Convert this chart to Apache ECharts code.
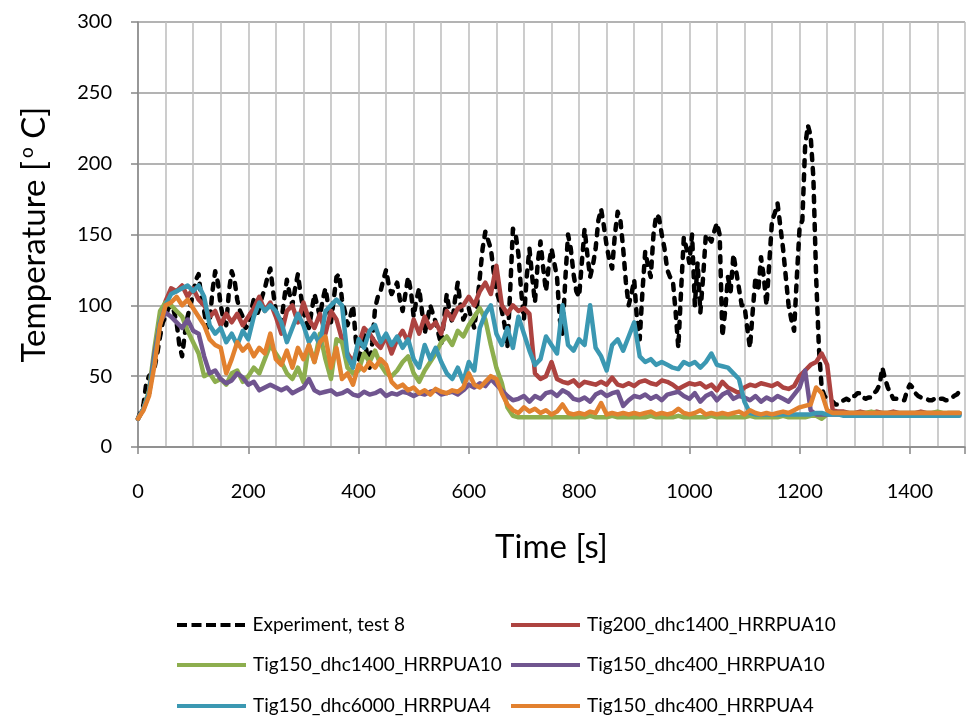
<!DOCTYPE html>
<html>
<head>
<meta charset="utf-8">
<script src="https://cdn.jsdelivr.net/npm/echarts@6/dist/echarts.min.js"></script>
<style>
  html, body { margin: 0; padding: 0; background: #ffffff; }
  #chart { width: 968px; height: 720px; }
</style>
</head>
<body>
<div id="chart"></div>
<script>
// Measured temperatures are sampled every 5 s, simulated ones every 10 s.
const experimentStep = 5;
const simulationStep = 10;

const seriesNames = [
  'Experiment, test 8',
  'Tig200_dhc1400_HRRPUA10',
  'Tig150_dhc1400_HRRPUA10',
  'Tig150_dhc400_HRRPUA10',
  'Tig150_dhc6000_HRRPUA4',
  'Tig150_dhc400_HRRPUA4'
];

const xTickValues = [0, 200, 400, 600, 800, 1000, 1200, 1400];
const yTickValues = [0, 50, 100, 150, 200, 250, 300];

// 0 s .. 1495 s, 50 s per row
const experiment = [
  20, 25, 30, 45, 50, 52, 56, 66, 78, 88,
  92, 98, 100, 96, 88, 72, 64, 80, 92, 100,
  108, 118, 122, 104, 96, 84, 88, 110, 124, 116,
  100, 90, 86, 110, 124, 118, 104, 96, 92, 84,
  86, 96, 104, 92, 98, 106, 112, 120, 126, 110,
  96, 90, 88, 104, 118, 108, 100, 112, 122, 108,
  96, 88, 84, 96, 108, 100, 92, 104, 112, 100,
  88, 104, 120, 122, 104, 96, 86, 92, 100, 76,
  60, 70, 80, 66, 56, 74, 98, 106, 110, 118,
  125, 114, 108, 112, 116, 104, 96, 108, 120, 110,
  92, 104, 112, 96, 80, 90, 100, 94, 88, 80,
  72, 90, 108, 96, 88, 104, 116, 100, 90, 94,
  98, 90, 84, 100, 120, 140, 152, 146, 140, 124,
  110, 104, 96, 86, 70, 110, 154, 150, 136, 110,
  90, 120, 140, 120, 102, 130, 145, 126, 110, 128,
  140, 130, 120, 90, 80, 118, 150, 140, 122, 110,
  106, 130, 154, 136, 120, 128, 140, 160, 168, 156,
  142, 132, 126, 150, 166, 160, 140, 116, 100, 108,
  118, 90, 76, 110, 138, 128, 120, 150, 164, 162,
  150, 140, 125, 120, 118, 96, 70, 110, 148, 140,
  130, 150, 100, 130, 95, 120, 150, 148, 145, 152,
  158, 150, 78, 96, 120, 110, 136, 124, 112, 100,
  100, 84, 70, 96, 120, 110, 134, 120, 100, 130,
  160, 165, 172, 156, 140, 120, 100, 90, 82, 120,
  155, 160, 212, 227, 220, 190, 120, 70, 42, 36,
  34, 33, 32, 30, 30, 32, 33, 34, 33, 36,
  36, 38, 38, 35, 34, 35, 35, 38, 40, 44,
  56, 48, 42, 38, 34, 34, 34, 33, 33, 40,
  44, 42, 38, 36, 35, 34, 34, 33, 33, 34,
  35, 34, 34, 33, 33, 34, 36, 37, 39, 38
];

// 0 s .. 1490 s, 100 s per row
const tig200Dhc1400Hrr10 = [
  20, 27, 38, 62, 90, 103, 112, 110, 114, 106,
  112, 104, 100, 92, 96, 86, 94, 88, 94, 86,
  92, 98, 106, 96, 102, 92, 80, 96, 100, 88,
  102, 90, 84, 94, 80, 96, 90, 76, 66, 60,
  72, 84, 80, 74, 70, 78, 66, 76, 82, 74,
  90, 80, 92, 84, 88, 80, 96, 90, 98, 100,
  106, 100, 110, 116, 108, 128, 100, 94, 100, 96,
  98, 94, 52, 48, 50, 60, 48, 46, 45, 47,
  43, 46, 45, 44, 46, 44, 49, 44, 43, 45,
  43, 46, 47, 45, 44, 47, 46, 44, 41, 43,
  45, 44, 45, 42, 44, 40, 46, 42, 40, 38,
  42, 44, 43, 45, 44, 43, 45, 42, 41, 43,
  50, 54, 58, 60, 66, 58, 26, 25, 25, 24,
  24, 25, 24, 24, 25, 24, 24, 25, 24, 24,
  24, 24, 25, 24, 24, 24, 23, 24, 24, 24
];

const tig150Dhc1400Hrr10 = [
  20, 27, 40, 70, 96, 102, 100, 96, 92, 82,
  74, 66, 50, 52, 46, 48, 44, 52, 54, 46,
  50, 56, 52, 62, 72, 66, 60, 52, 48, 56,
  46, 72, 60, 80, 62, 48, 76, 74, 56, 52,
  54, 66, 60, 68, 58, 52, 50, 54, 60, 64,
  52, 46, 54, 60, 66, 74, 78, 72, 82, 78,
  86, 92, 98, 90, 72, 56, 45, 28, 22, 21,
  21, 21, 21, 21, 21, 21, 21, 21, 21, 21,
  21, 21, 22, 21, 21, 21, 22, 21, 21, 21,
  21, 21, 21, 22, 21, 21, 21, 21, 22, 21,
  21, 21, 21, 21, 22, 21, 21, 21, 21, 21,
  21, 22, 21, 21, 21, 21, 21, 22, 21, 21,
  21, 21, 22, 22, 20, 23, 24, 24, 24, 24,
  24, 24, 24, 25, 24, 24, 24, 24, 24, 24,
  24, 24, 24, 24, 24, 25, 24, 24, 24, 24
];

const tig150Dhc400Hrr10 = [
  20, 27, 38, 66, 88, 95, 92, 88, 84, 90,
  82, 80, 64, 52, 54, 48, 45, 47, 52, 49,
  44, 46, 40, 42, 44, 42, 40, 42, 38, 40,
  42, 48, 40, 38, 39, 40, 37, 38, 40, 37,
  36, 39, 37, 38, 40, 36, 38, 37, 39, 38,
  36, 38, 37, 39, 40, 37, 38, 39, 37, 40,
  44, 42, 45, 43, 48, 44, 40, 36, 33, 34,
  36, 32, 36, 34, 38, 39, 36, 40, 38, 34,
  33, 35, 32, 37, 39, 36, 38, 39, 29, 33,
  36, 35, 37, 34, 36, 33, 37, 38, 39, 36,
  34, 38, 32, 36, 38, 33, 37, 39, 34, 36,
  35, 33, 36, 32, 35, 33, 36, 34, 32, 37,
  42, 54, 26, 23, 23, 23, 23, 23, 23, 23,
  23, 23, 23, 23, 23, 23, 23, 23, 23, 23,
  23, 23, 23, 23, 23, 23, 23, 23, 23, 23
];

const tig150Dhc6000Hrr4 = [
  20, 27, 38, 62, 88, 100, 108, 110, 112, 114,
  110, 114, 106, 86, 80, 84, 74, 80, 72, 82,
  76, 92, 102, 96, 100, 96, 88, 74, 84, 94,
  86, 74, 80, 72, 96, 100, 104, 100, 64, 56,
  76, 70, 82, 86, 74, 80, 72, 78, 70, 76,
  62, 56, 72, 62, 70, 60, 52, 48, 56, 46,
  60, 54, 84, 94, 100, 80, 72, 84, 70, 92,
  80, 68, 58, 62, 78, 72, 66, 100, 72, 68,
  76, 72, 100, 70, 64, 54, 72, 76, 68, 78,
  88, 64, 60, 62, 58, 60, 58, 56, 55, 60,
  58, 60, 56, 60, 66, 58, 57, 56, 52, 48,
  32, 24, 23, 23, 23, 23, 23, 23, 23, 23,
  23, 23, 23, 24, 24, 23, 23, 23, 22, 22,
  22, 22, 22, 22, 22, 22, 22, 22, 22, 22,
  22, 22, 22, 22, 22, 22, 22, 22, 22, 22
];

const tig150Dhc400Hrr4 = [
  20, 26, 36, 58, 86, 100, 102, 106, 100, 104,
  98, 92, 86, 76, 72, 70, 52, 62, 74, 68,
  72, 64, 70, 66, 80, 62, 58, 68, 56, 70,
  62, 72, 60, 74, 78, 56, 70, 48, 52, 44,
  58, 54, 60, 56, 62, 58, 46, 42, 44, 40,
  42, 38, 40, 37, 41, 39, 38, 40, 39, 42,
  52, 44, 42, 46, 50, 48, 38, 30, 26, 24,
  28, 25, 27, 24, 26, 23, 25, 30, 24, 23,
  24, 23, 25, 24, 31, 23, 24, 23, 24, 23,
  24, 23, 24, 25, 23, 24, 23, 24, 27, 24,
  23, 24, 26, 23, 24, 23, 24, 23, 24, 25,
  23, 26, 24, 23, 24, 23, 24, 25, 24, 26,
  28, 29, 30, 42, 38, 26, 24, 24, 24, 24,
  24, 24, 24, 24, 24, 24, 24, 24, 24, 24,
  24, 24, 24, 24, 24, 24, 24, 24, 24, 24
];

const seriesValues = [
  experiment,
  tig200Dhc1400Hrr10,
  tig150Dhc1400Hrr10,
  tig150Dhc400Hrr10,
  tig150Dhc6000Hrr4,
  tig150Dhc400Hrr4
];
const seriesSteps = [experimentStep, simulationStep, simulationStep, simulationStep, simulationStep, simulationStep];

const seriesColors = ['#000000', '#AD4340', '#8DAE4E', '#70558F', '#3B98B2', '#E2812F'];

const fontFamily = 'Lato, "Open Sans", sans-serif';
const chart = echarts.init(document.getElementById('chart'), null, { renderer: 'canvas' });

function toPairs(values, step) {
  return values.map((v, i) => [i * step, v]);
}

const dashPattern = [6, 8];

const series = seriesNames.map((name, k) => ({
  name: name,
  type: 'line',
  data: toPairs(seriesValues[k], seriesSteps[k]),
  showSymbol: false,
  symbol: 'none',
  animation: false,
  z: 2 + k,
  lineStyle: k === 0
    ? { color: seriesColors[k], width: 4.5, type: dashPattern, cap: 'round', join: 'round' }
    : { color: seriesColors[k], width: 4.5, cap: 'round', join: 'round' },
  itemStyle: { color: seriesColors[k] }
}));

// legend keys: a dashed bar for the measurement, solid bars for the simulations
const dashedKey = 'path://M0,0h10v4h-10z M14.5,0h10v4h-10z M29,0h10v4h-10z M43.5,0h10v4h-10z M58,0h10v4h-10z';
const legendCols = [177, 511];
const legendRows = [615, 655, 696];
const legends = seriesNames.map((name, k) => ({
  data: [{ name: name, icon: k === 0 ? dashedKey : 'rect' }],
  left: legendCols[k % 2],
  top: legendRows[Math.floor(k / 2)],
  padding: 0,
  itemWidth: 69,
  itemHeight: 4,
  itemGap: 0,
  selectedMode: false,
  itemStyle: { color: seriesColors[k], borderWidth: 0 },
  textStyle: { fontFamily: fontFamily, fontSize: 19, color: '#000000', lineHeight: 20, padding: [0, 0, 0, 2] }
}));

const option = {
  backgroundColor: '#ffffff',
  animation: false,
  grid: { left: 138, right: -8, top: 22, bottom: 273, containLabel: false },
  legend: legends,
  xAxis: [
    {
      type: 'value',
      min: 0,
      max: 1500,
      interval: 200,
      name: 'Time [s]',
      nameLocation: 'middle',
      nameGap: 84,
      nameTextStyle: { fontFamily: fontFamily, fontSize: 33, color: '#000000' },
      axisLine: { show: true, onZero: false, lineStyle: { color: '#868686', width: 1.5 } },
      axisTick: { show: true, inside: false, length: 7, lineStyle: { color: '#868686', width: 1.5 } },
      axisLabel: {
        margin: 35,
        fontFamily: fontFamily,
        fontSize: 20,
        color: '#000000',
        formatter: v => (xTickValues.includes(v) ? String(v) : '')
      },
      splitLine: { show: false }
    },
    {
      type: 'value',
      min: 0,
      max: 1500,
      interval: 50,
      position: 'bottom',
      axisLine: { show: false },
      axisTick: { show: false },
      axisLabel: { show: false },
      splitLine: { show: true, lineStyle: { color: '#c0c0c0', width: 1.6 } }
    }
  ],
  yAxis: {
    type: 'value',
    min: 0,
    max: 300,
    interval: 50,
    name: '{t|Temperature [}{sup|o}{t| C]}',
    nameLocation: 'middle',
    nameGap: 86,
    nameTextStyle: {
      fontFamily: fontFamily,
      fontSize: 33,
      color: '#000000',
      rich: {
        t: { fontFamily: fontFamily, fontSize: 33, color: '#000000' },
        sup: { fontFamily: fontFamily, fontSize: 19, color: '#000000', padding: [0, 0, 16, 3] }
      }
    },
    axisLine: { show: true, lineStyle: { color: '#868686', width: 1.5 } },
    axisTick: { show: true, inside: false, length: 7, lineStyle: { color: '#868686', width: 1.5 } },
    axisLabel: {
      margin: 26,
      fontFamily: fontFamily,
      fontSize: 20,
      color: '#000000',
      formatter: v => (yTickValues.includes(v) ? String(v) : '')
    },
    splitLine: { show: true, lineStyle: { color: '#9a9a9a', width: 1.6 } }
  },
  series: series
};

chart.setOption(option);
</script>
</body>
</html>
